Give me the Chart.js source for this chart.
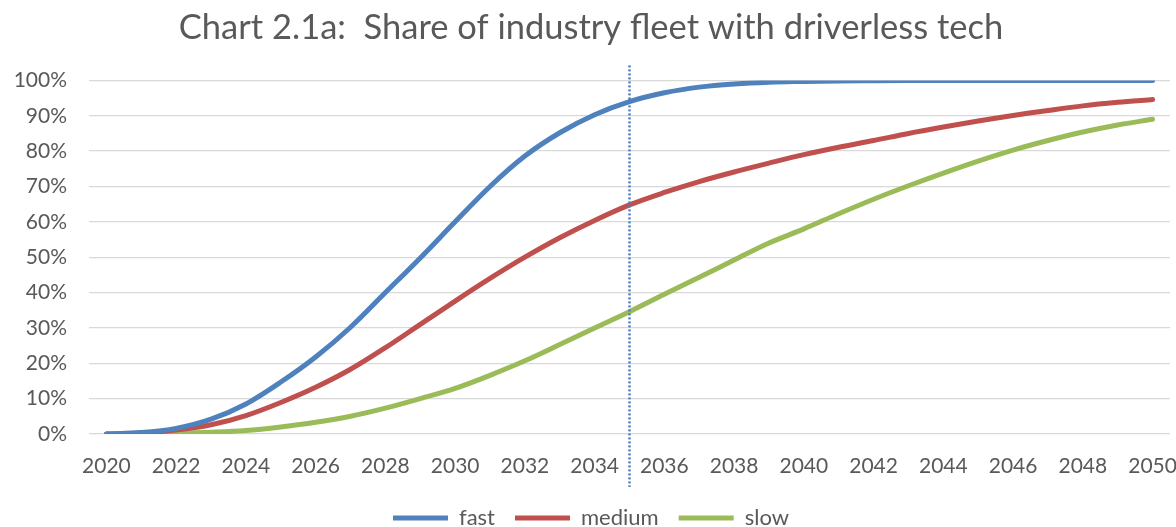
<!DOCTYPE html>
<html>
<head>
<meta charset="utf-8">
<title>Share of industry fleet with driverless tech</title>
<script src="https://cdn.jsdelivr.net/npm/chart.js@4.4.0/dist/chart.umd.min.js"></script>
<style>
  html, body { margin: 0; padding: 0; background: #fff; }
  #wrap { width: 1176px; height: 527px; position: relative; }
</style>
</head>
<body>
<div id="wrap"><canvas id="grafico"></canvas></div>
<script>
// años de la proyección
const anios = [];
for (let a = 2020; a <= 2050; a++) anios.push(String(a));

// share of fleet (%) per scenario
const fast = [0, 0.4, 1.6, 4.2, 8.5, 14.7, 21.8, 30.2, 40, 49.8, 60, 70, 78.6, 85.2, 90.3, 94,
  96.5, 98.1, 99, 99.5, 99.7, 99.85, 99.9, 99.95, 100, 100, 100, 100, 100, 100, 100];
const medium = [0, 0.3, 1.1, 2.6, 5.2, 8.9, 13.2, 18.3, 24.4, 31, 37.6, 44, 50, 55.5, 60.4, 64.8,
  68.3, 71.4, 74.1, 76.6, 79, 81.1, 83, 85, 86.8, 88.5, 90.1, 91.5, 92.8, 93.8, 94.6];
const slow = [0, 0.05, 0.2, 0.5, 1, 2, 3.3, 5, 7.3, 10, 12.9, 16.6, 20.7, 25.3, 30, 34.6,
  39.5, 44.3, 49.2, 54, 58, 62.3, 66.4, 70.2, 73.8, 77.2, 80.3, 83, 85.4, 87.4, 89];

const anioMarcado = "2035";
const gris = "#595959";

// linea punteada vertical en el año marcado
const lineaVertical = {
  id: "lineaVertical",
  afterDatasetsDraw(chart) {
    const ctx = chart.ctx;
    const x = chart.scales.x.getPixelForValue(anios.indexOf(anioMarcado));
    const area = chart.chartArea;
    ctx.save();
    ctx.strokeStyle = "#4a7ebb";
    ctx.lineWidth = 2.5;
    ctx.setLineDash([2, 2]);
    ctx.beginPath();
    ctx.moveTo(x, area.top - 15);
    ctx.lineTo(x, area.bottom + 53);
    ctx.stroke();
    ctx.restore();
  }
};

function serie(label, data, color) {
  return {
    label: label,
    data: data,
    borderColor: color,
    backgroundColor: color,
    borderWidth: 5,
    borderCapStyle: "round",
    pointRadius: 0,
    pointHoverRadius: 0,
    cubicInterpolationMode: "monotone",
    pointStyle: "line",
    fill: false
  };
}

const ctx = document.getElementById("grafico").getContext("2d");
new Chart(ctx, {
  type: "line",
  data: {
    labels: anios,
    datasets: [
      serie("fast", fast, "#4f81bd"),
      serie("medium", medium, "#c0504d"),
      serie("slow", slow, "#9bbb59")
    ]
  },
  options: {
    responsive: true,
    maintainAspectRatio: false,
    animation: false,
    layout: { padding: { left: 12, right: 6, top: 2, bottom: -12 } },
    font: { family: "Lato" },
    plugins: {
      title: {
        display: true,
        text: "Chart 2.1a:  Share of industry fleet with driverless tech",
        color: gris,
        font: { family: "Lato", size: 34.5, weight: "normal" },
        padding: { top: 5, bottom: 32 }
      },
      legend: {
        position: "bottom",
        labels: {
          color: gris,
          font: { family: "Lato", size: 22 },
          usePointStyle: true,
          pointStyleWidth: 55,
          boxHeight: 14,
          padding: 20
        }
      },
      tooltip: { enabled: false }
    },
    scales: {
      x: {
        offset: true,
        grid: { display: false, drawTicks: false },
        border: { display: false },
        ticks: {
          color: gris,
          font: { family: "Lato", size: 21 },
          autoSkip: false,
          maxRotation: 0,
          padding: 20,
          callback: function (v, i) { return i % 2 === 0 ? anios[i] : ""; }
        },
        afterFit: function (scale) {
          scale.height = 53;
          scale.paddingLeft = 0;
          scale.paddingRight = 0;
        }
      },
      y: {
        min: 0,
        max: 100,
        grid: { color: "#d9d9d9", lineWidth: 1.3, drawTicks: false },
        border: { display: false },
        ticks: {
          stepSize: 10,
          color: gris,
          font: { family: "Lato", size: 21 },
          padding: 22,
          callback: function (v) { return v + "%"; }
        },
        afterFit: function (scale) {
          scale.width = 77;
        }
      }
    }
  },
  plugins: [lineaVertical]
});
</script>
</body>
</html>
